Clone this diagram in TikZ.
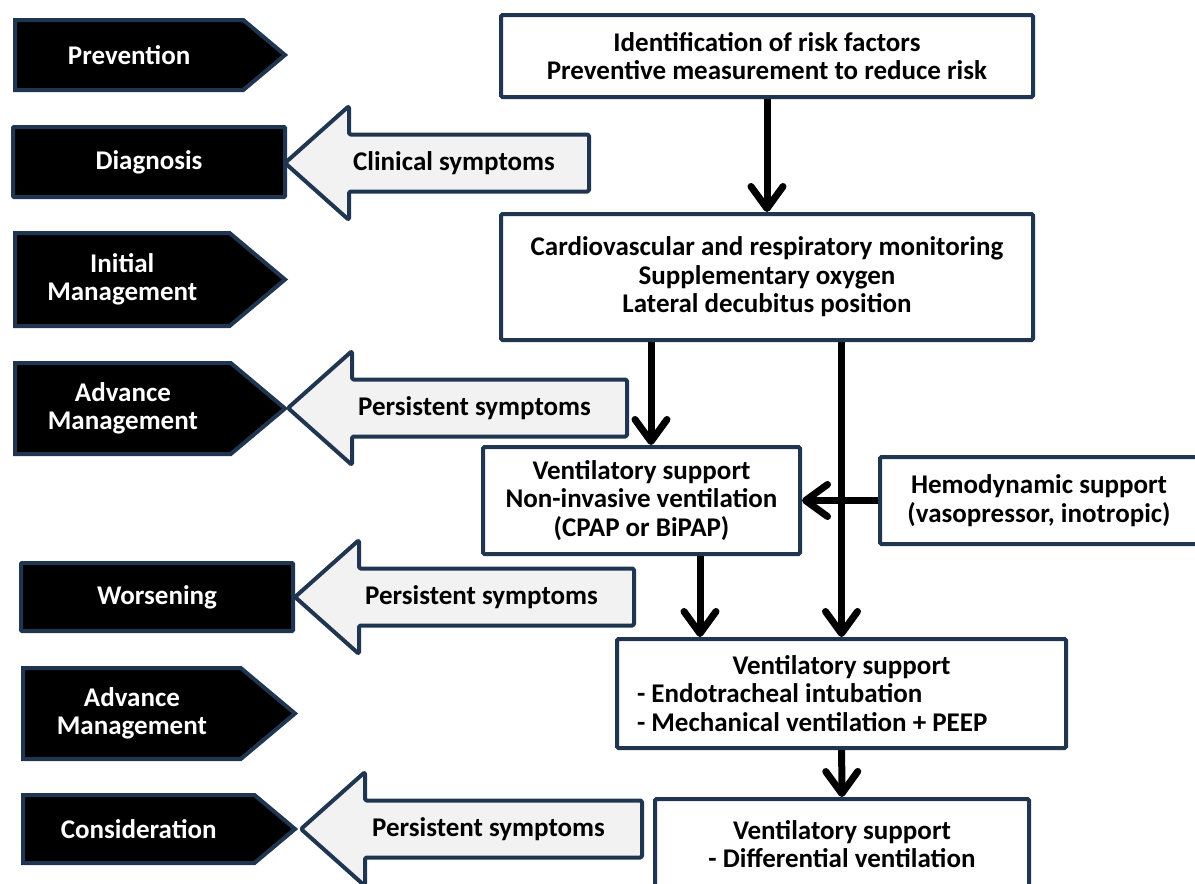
\documentclass[tikz,border=0pt]{standalone}
\usepackage{fontspec}
\setmainfont{Carlito}
\usetikzlibrary{arrows.meta,positioning,shapes.symbols}
\definecolor{navy}{HTML}{1F3550}
\definecolor{hintgray}{HTML}{F2F2F2}

\begin{document}
\begin{tikzpicture}[x=1pt,y=-1pt,
  every node/.style={font=\fontsize{27}{28.5}\selectfont\bfseries},
  tag/.style={signal, signal to=east, signal pointer angle=80, fill=black, draw=navy,
    line width=4pt, text=white, align=center, minimum width=270pt, inner sep=0pt, anchor=west},
  tagbox/.style={rectangle, fill=black, draw=navy, line width=4pt, text=white,
    minimum width=272pt, rounded corners=1pt},
  box/.style={draw=navy, line width=4pt, fill=white, align=center, rounded corners=1.5pt, inner sep=0pt},
  hint/.style={draw=navy, line width=4pt, fill=hintgray, rounded corners=1.5pt, line join=round},
  flow/.style={line width=7pt, -{Straight Barb[length=22pt,width=32pt,round]}}]
\path[use as bounding box, clip] (0,0) rectangle (1195,884);

% stages on the left
\node[tag, minimum height=70pt] (prevention) at (13,55) {Prevention};
\node[tagbox, minimum height=70pt] (diagnosis) at (149,162) {Diagnosis};
\node[tag, minimum height=93pt] (initial) at (13,279.5) {Initial\\Management};
\node[tag, minimum height=91pt] (advanceA) at (13,408.5) {Advance\\Management};
\node[tagbox, minimum height=68pt] (worsening) at (157,597) {Worsening};
\node[tag, minimum width=272pt, minimum height=91pt] (advanceB) at (21,713.5) {Advance\\Management};
\node[tag, minimum width=272pt, minimum height=68pt] (consideration) at (21,829) {Consideration};

% symptom arrows
\foreach \tx/\ty/\ex/\nm/\lbl in {285/163/589/clinical/Clinical symptoms,
    288/408/627/persistA/Persistent symptoms,
    295/597/634/persistB/Persistent symptoms,
    301/829/642/persistC/Persistent symptoms}{
  \draw[hint] (\tx,\ty) -- ++(64,-57) -- ++(0,28.5) -- (\ex,\ty-28.5)
    -- (\ex,\ty+28.5) -- (\tx+64,\ty+28.5) -- ++(0,28.5) -- cycle;
  \node (\nm) at ({(\tx+64+\ex)/2-15},\ty) {\lbl};
}

% management boxes
\node[box, minimum width=532pt, minimum height=82pt] (risk) at (767,56)
  {Identification of risk factors\\Preventive measurement to reduce risk};
\node[box, minimum width=532pt, minimum height=126pt] (monitor) at (767,277)
  {Cardiovascular and respiratory monitoring\\Supplementary oxygen\\Lateral decubitus position};
\node[box, minimum width=317pt, minimum height=107pt] (niv) at (641.5,500.5)
  {Ventilatory support\\Non-invasive ventilation\\(CPAP or BiPAP)};
\node[box, minimum width=318pt, minimum height=87pt] (hemo) at (1039,500.5)
  {Hemodynamic support\\(vasopressor, inotropic)};
\node[box, inner xsep=20pt, minimum height=109pt] (mech) at (841.5,693.5)
  {\makebox[409pt][c]{Ventilatory support}\\
   \makebox[409pt][l]{- Endotracheal intubation}\\
   \makebox[409pt][l]{- Mechanical ventilation + PEEP}};
\node[box, minimum width=374pt, minimum height=90pt] (diff) at (842,844)
  {Ventilatory support\\- Differential ventilation};

% flow
\draw[flow] (risk) -- (monitor);
\draw[flow] ([xshift=9.5pt]niv.north |- monitor.south) -- ([xshift=9.5pt]niv.north);
\draw[flow] (mech.north |- monitor.south) -- (mech.north);
\draw[flow] ([xshift=58.5pt]niv.south) -- ([xshift=58.5pt]niv.south |- mech.north);
\draw[flow] (hemo) -- (niv);
\draw[flow] (mech) -- (diff);
\end{tikzpicture}
\end{document}
